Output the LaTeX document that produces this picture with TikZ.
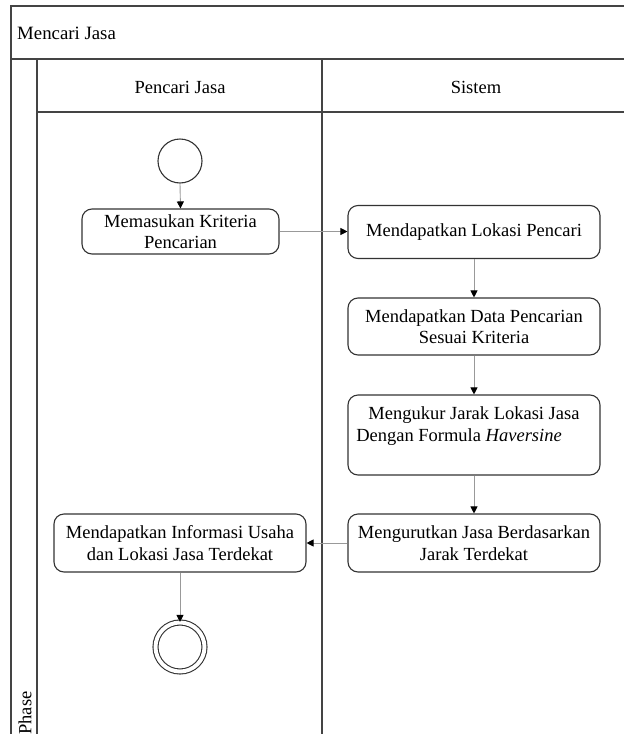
\documentclass[tikz,border=0pt]{standalone}
\usepackage{fontspec}
\setmainfont{Liberation Serif}
\usetikzlibrary{arrows.meta}
\definecolor{framec}{HTML}{444444}
\definecolor{boxc}{HTML}{333333}
\definecolor{linkc}{HTML}{999999}
\tikzset{
  frameline/.style={draw=framec, line width=1.6pt},
  actbox/.style={draw=boxc, line width=1.1pt, rounded corners=10pt, align=center, inner sep=0pt, font=\fontsize{18.5}{21.5}\selectfont},
  lbl/.style={inner sep=0pt, font=\fontsize{18.5}{21.5}\selectfont},
  startnode/.style={draw=boxc, line width=1.1pt, circle, inner sep=0pt, minimum size=44pt},
  endnode/.style={draw=boxc, line width=1.1pt, circle, inner sep=0pt, minimum size=49pt, double, double distance=3.9pt},
  link/.style={draw=linkc, line width=0.9pt, -{Triangle[length=7pt,width=7pt,color=black]}}
}
\begin{document}
\begin{tikzpicture}[x=1pt,y=-1pt]
\useasboundingbox (0,0) rectangle (624,734);
\clip (0,0) rectangle (624,734);
% frame
\draw[frameline] (11,740) -- (11,6) -- (640,6);
\draw[frameline] (11,59) -- (640,59);
\draw[frameline] (37,59) -- (37,740);
\draw[frameline] (37,112) -- (640,112);
\draw[frameline] (322,59) -- (322,740);
% headers
\node[lbl, anchor=west, font=\fontsize{18.8}{21.5}\selectfont] (title) at (17,33) {Mencari Jasa};
\node[lbl] (lane1) at (180,87) {Pencari Jasa};
\node[lbl] (lane2) at (476,87) {Sistem};
\node[lbl, rotate=90] (phase) at (25,713) {Phase};
% nodes
\node[startnode] (start) at (180,161) {};
\node[actbox, minimum width=197pt, minimum height=45pt] (a1) at (180.5,231.5) {Memasukan Kriteria\\Pencarian};
\node[actbox, minimum width=252pt, minimum height=53pt] (a2) at (474,232) {Mendapatkan Lokasi Pencari};
\node[actbox, minimum width=252pt, minimum height=57pt] (a3) at (474,326.5) {Mendapatkan Data Pencarian\\Sesuai Kriteria};
\node[actbox, minimum width=252pt, minimum height=80pt] (a4) at (474,435) {Mengukur Jarak Lokasi Jasa\\Dengan Formula \textit{Haversine}\hspace*{30pt}\mbox{}\\\mbox{}};
\node[actbox, minimum width=252pt, minimum height=58pt] (a5) at (474,543) {Mengurutkan Jasa Berdasarkan\\Jarak Terdekat};
\node[actbox, minimum width=252pt, minimum height=58pt] (a6) at (180,543) {Mendapatkan Informasi Usaha\\dan Lokasi Jasa Terdekat};
\node[endnode] (end) at (180,647) {};
% connectors
\draw[link] (start.south) -- (a1.north);
\draw[link] (a1.east) -- (a1.east -| a2.west);
\draw[link] (a2.south) -- (a3.north);
\draw[link] (a3.south) -- (a4.north);
\draw[link] (a4.south) -- (a5.north);
\draw[link] (a5.west) -- (a6.east);
\draw[link] (a6.south) -- (end.north);
\end{tikzpicture}
\end{document}
